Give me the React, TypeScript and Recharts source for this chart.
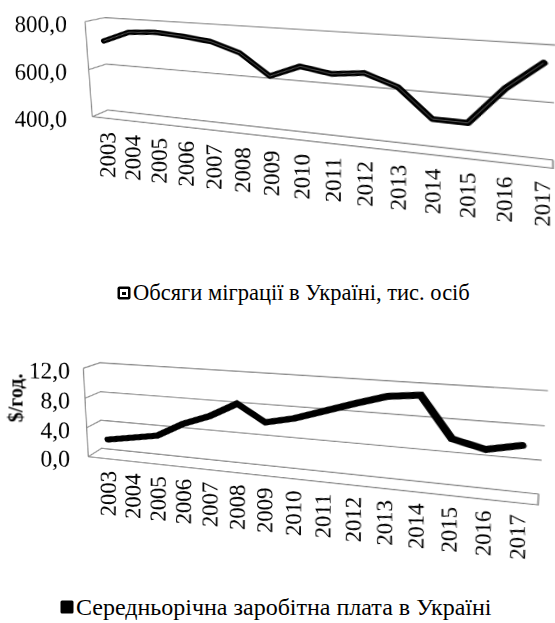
import React from "react";
import { LineChart, Line, XAxis, YAxis, CartesianGrid } from "recharts";

const years = ["2003", "2004", "2005", "2006", "2007", "2008", "2009", "2010", "2011", "2012", "2013", "2014", "2015", "2016", "2017"];
const migration = [712, 756, 763, 754, 741, 704, 622, 669, 650, 663, 622, 516, 514, 647, 745];
const wage = [2.0, 2.6, 3.2, 5.1, 6.4, 8.3, 6.2, 7.0, 8.2, 9.4, 10.5, 10.9, 6.1, 5.2, 6.0];
const migrationTicks = [400, 600, 800];
const wageTicks = [0, 4, 8, 12];
const migrationName = "Обсяги міграції в Україні, тис. осіб";
const wageName = "Середньорічна заробітна плата в Україні";
const wageUnit = "$/год.";

const FONT = "'Liberation Serif', 'Times New Roman', serif";
const GRID = "#8c8c8c";
// flat chart box, the plot rect inside it
const W = 560, H = 200;
const L = 100, T = 20, R = 555, B = 140;

type P = [number, number];
type Q = [P, P, P, P]; // TL, TR, BR, BL

// 4-point homography, h[8] = 1
function fit(src: Q, dst: Q): number[] {
  const A: number[][] = [];
  const b: number[] = [];
  for (let i = 0; i < 4; i++) {
    const [x, y] = src[i];
    const [X, Y] = dst[i];
    A.push([x, y, 1, 0, 0, 0, -x * X, -y * X]); b.push(X);
    A.push([0, 0, 0, x, y, 1, -x * Y, -y * Y]); b.push(Y);
  }
  for (let c = 0; c < 8; c++) {
    let p = c;
    for (let r = c + 1; r < 8; r++) if (Math.abs(A[r][c]) > Math.abs(A[p][c])) p = r;
    [A[c], A[p]] = [A[p], A[c]];
    [b[c], b[p]] = [b[p], b[c]];
    for (let r = 0; r < 8; r++) {
      if (r === c) continue;
      const f = A[r][c] / A[c][c];
      for (let k = c; k < 8; k++) A[r][k] -= f * A[c][k];
      b[r] -= f * b[c];
    }
  }
  return [...b.map((v, i) => v / A[i][i]), 1];
}

function map(h: number[], x: number, y: number): P {
  const w = h[6] * x + h[7] * y + h[8];
  return [(h[0] * x + h[1] * y + h[2]) / w, (h[3] * x + h[4] * y + h[5]) / w];
}

function invert(m: number[]): number[] {
  const [a, b, c, d, e, f, g, h, i] = m;
  const A = e * i - f * h, Bc = f * g - d * i, C = d * h - e * g;
  const det = a * A + b * Bc + c * C;
  return [
    A / det, (c * h - b * i) / det, (b * f - c * e) / det,
    Bc / det, (a * i - c * g) / det, (c * d - a * f) / det,
    C / det, (b * g - a * h) / det, (a * e - b * d) / det,
  ];
}

function jac(h: number[], x: number, y: number) {
  const u = h[0] * x + h[1] * y + h[2];
  const v = h[3] * x + h[4] * y + h[5];
  const w = h[6] * x + h[7] * y + h[8];
  const w2 = w * w;
  return [
    (h[0] * w - u * h[6]) / w2, (h[1] * w - u * h[7]) / w2,
    (h[3] * w - v * h[6]) / w2, (h[4] * w - v * h[7]) / w2,
  ];
}

const css = (h: number[]) =>
  `matrix3d(${h[0]},${h[3]},0,${h[6]},${h[1]},${h[4]},0,${h[7]},0,0,1,0,${h[2]},${h[5]},0,${h[8]})`;

const fmt = (v: number) => v.toFixed(1).replace(".", ",");

interface WallProps {
  values: number[];
  ticks: number[];
  back: Q;
  front: Q;
  yRight: number;
  xGap: number;
  firstX: number;
  lastX: number;
  lineWidth: number;
  stripe?: boolean;
  join: "round" | "miter";
}

function Wall3D(p: WallProps) {
  const plot: Q = [[L, T], [R, T], [R, B], [L, B]];
  const mid = p.back.map((c, i) => [(c[0] + p.front[i][0]) / 2, (c[1] + p.front[i][1]) / 2]) as Q;
  const Hm = fit(plot, mid);
  const Hb = fit(plot, p.back);
  const Hf = fit(plot, p.front);
  const Hi = invert(Hm);

  // point of another plane, expressed in this (ribbon) layer's flat coords
  const into = (M: number[], x: number, y: number): P => {
    const s = map(M, x, y);
    return map(Hi, s[0], s[1]);
  };
  // keeps text upright and unscaled at screen point
  const upright = (sx: number, sy: number) => {
    const [px, py] = map(Hi, sx, sy);
    const [a, b, c, d] = jac(Hm, px, py);
    const det = a * d - b * c;
    const ia = d / det, ib = -b / det, ic = -c / det, id = a / det;
    return `translate(${px},${py}) matrix(${ia},${ic},${ib},${id},0,0)`;
  };
  const flatX = (sx: number) => {
    let lo = 0, hi = W;
    for (let i = 0; i < 60; i++) {
      const m = (lo + hi) / 2;
      if (map(Hm, m, 80)[0] < sx) lo = m; else hi = m;
    }
    return lo;
  };
  const padL = flatX(p.firstX) - L;
  const padR = R - flatX(p.lastX);

  const rows = years.map((year, i) => ({ year, value: p.values[i] }));
  const domain = [p.ticks[0], p.ticks[p.ticks.length - 1]];

  const gridLine = (g: any) => {
    const y = g.y1;
    const a = into(Hb, L, y), b = into(Hb, R, y), c = into(Hf, L, y);
    const st = { stroke: GRID, strokeWidth: 1.4, fill: "none" };
    const parts: React.ReactNode[] = [
      <polyline key="w" points={`${c[0]},${c[1]} ${a[0]},${a[1]} ${b[0]},${b[1]}`} {...st} />,
    ];
    if (Math.abs(y - B) < 0.5) {
      const d = into(Hf, R, B);
      parts.push(<polyline key="f" points={`${c[0]},${c[1]} ${d[0]},${d[1]} ${b[0]},${b[1]}`} {...st} />);
    }
    if (Math.abs(y - T) < 0.5) {
      const e = into(Hf, L, B);
      parts.push(<line key="s" x1={c[0]} y1={c[1]} x2={e[0]} y2={e[1]} {...st} />);
    }
    return <g key={g.key ?? `g-${y}`}>{parts}</g>;
  };

  const YTick = ({ y, payload }: any) => {
    const sy = map(Hf, L, y)[1] + 2;
    return (
      <g transform={upright(p.yRight, sy)}>
        <text x={0} y={0} textAnchor="end" dominantBaseline="central" fontSize={24} fontFamily={FONT} fill="#000">
          {fmt(payload.value)}
        </text>
      </g>
    );
  };

  const XTick = ({ x, payload }: any) => {
    const [sx, sy] = map(Hm, x, B);
    return (
      <g transform={upright(sx, sy + p.xGap)}>
        <text x={0} y={0} transform="rotate(-90)" textAnchor="end" dominantBaseline="central" fontSize={23} fontFamily={FONT} fill="#000">
          {payload.value}
        </text>
      </g>
    );
  };

  return (
    <div style={{ position: "absolute", left: 0, top: 0, width: W, height: H, transformOrigin: "0 0", transform: css(Hm) }}>
      <LineChart width={W} height={H} data={rows} margin={{ top: T, right: W - R, bottom: 30, left: 0 }}>
        <CartesianGrid vertical={false} horizontal={gridLine} />
        <XAxis dataKey="year" height={30} interval={0} padding={{ left: padL, right: padR }} axisLine={false} tickLine={false} tick={<XTick />} />
        <YAxis type="number" domain={domain} ticks={p.ticks} width={L} interval={0} axisLine={false} tickLine={false} tick={<YTick />} />
        <Line type="linear" dataKey="value" stroke="#000" strokeWidth={p.lineWidth} strokeLinecap="round" strokeLinejoin={p.join} dot={false} isAnimationActive={false} />
        {p.stripe && (
          <Line type="linear" dataKey="value" stroke="#5a5a5a" strokeWidth={1} dot={false} isAnimationActive={false} />
        )}
      </LineChart>
    </div>
  );
}

export default function App() {
  return (
    <div style={{ position: "absolute", left: 0, top: 0, width: 555, height: 623, overflow: "hidden", background: "#fff", fontFamily: FONT }}>
      <style>{".recharts-surface{overflow:visible}"}</style>
      <Wall3D
        values={migration}
        ticks={migrationTicks}
        back={[[105, 17.5], [555, 45], [553, 160], [108, 110]]}
        front={[[85, 21.7], [555, 50], [553, 168.3], [92.3, 116.7]]}
        yRight={67}
        xGap={18}
        firstX={105}
        lastX={543}
        lineWidth={6.5}
        stripe
        join="round"
      />
      <Wall3D
        values={wage}
        ticks={wageTicks}
        back={[[100, 362.7], [548, 390.7], [538.6, 494], [101.7, 448.3]]}
        front={[[83.3, 368.3], [547, 396], [538, 505], [88.3, 456.7]]}
        yRight={70}
        xGap={17}
        firstX={106.7}
        lastX={521.7}
        lineWidth={8}
        join="miter"
      />
      <div style={{ position: "absolute", left: 117, top: 280, height: 26, display: "flex", alignItems: "center", whiteSpace: "nowrap", fontSize: 22.5 }}>
        <svg width={14} height={14} style={{ marginRight: 2 }}>
          <rect x={0.5} y={0.5} width={13} height={13} rx={2} fill="#000" />
          <rect x={3} y={3} width={8} height={8} fill="#fff" />
          <rect x={5} y={6} width={4} height={3} fill="#000" />
        </svg>
        <span>{migrationName}</span>
      </div>
      <div style={{ position: "absolute", left: 60, top: 594, height: 26, display: "flex", alignItems: "center", whiteSpace: "nowrap", fontSize: 24 }}>
        <svg width={14} height={14} style={{ marginRight: 2 }}>
          <rect x={0.5} y={0.5} width={13} height={13} rx={1.5} fill="#000" />
        </svg>
        <span>{wageName}</span>
      </div>
      <div style={{ position: "absolute", left: 16, top: 398, transform: "translate(-50%, -50%) rotate(-90deg)", fontWeight: "bold", fontSize: 20, whiteSpace: "nowrap" }}>
        {wageUnit}
      </div>
    </div>
  );
}
